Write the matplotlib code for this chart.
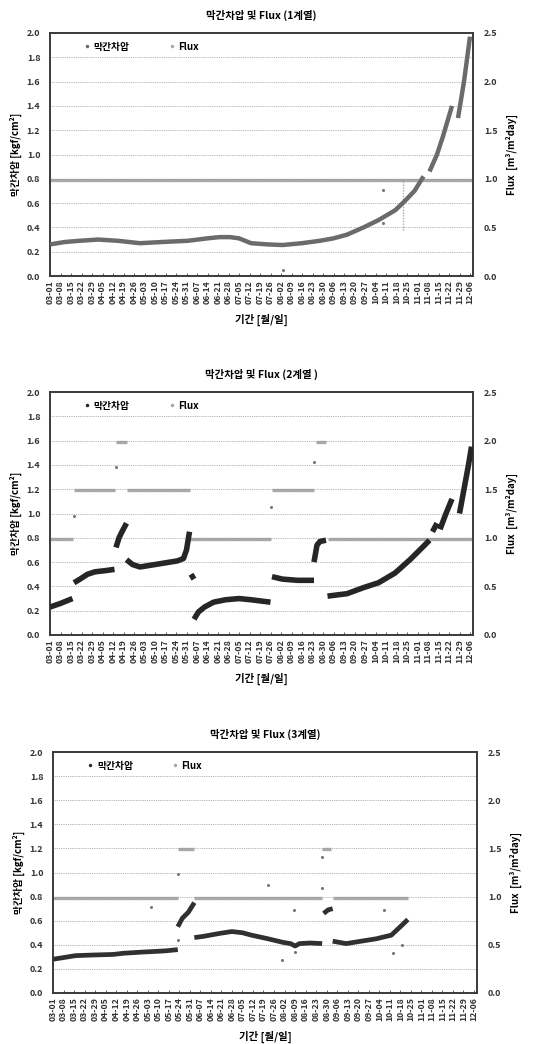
import numpy as np
import matplotlib
matplotlib.use("Agg")
import matplotlib.pyplot as plt
from matplotlib.lines import Line2D

plt.rcParams['font.family'] = ['Noto Sans CJK KR', 'DejaVu Sans']

nan = np.nan

# x tick labels (weekly, day 0 = 03-01)
tick_labels = ["03-01", "03-08", "03-15", "03-22", "03-29", "04-05", "04-12", "04-19", "04-26",
               "05-03", "05-10", "05-17", "05-24", "05-31", "06-07", "06-14", "06-21", "06-28",
               "07-05", "07-12", "07-19", "07-26", "08-02", "08-09", "08-16", "08-23", "08-30",
               "09-06", "09-13", "09-20", "09-27", "10-04", "10-11", "10-18", "10-25", "11-01",
               "11-08", "11-15", "11-22", "11-29", "12-06"]

titles = ["막간차압 및 Flux (1계열)", "막간차압 및 Flux (2계열 )", "막간차압 및 Flux (3계열)"]

# ---------- Panel 1 (day offsets from 03-01, NaN = gap) ----------
p1_day = [0, 10, 20, 32, 45, 60, 75, 92, 105, 113, 120, 126, 134, 145, 155, 168, 180, 189,
          198, 209, 219, 230, 236, 243, 249, nan, 253, 258, 262, 268, nan, 272, 276, 280]
p1_val = [0.26, 0.28, 0.29, 0.30, 0.29, 0.27, 0.28, 0.29, 0.31, 0.32, 0.32, 0.31, 0.27, 0.26,
          0.255, 0.27, 0.29, 0.31, 0.34, 0.40, 0.46, 0.54, 0.61, 0.70, 0.82, nan, 0.86, 1.0,
          1.15, 1.40, nan, 1.30, 1.60, 1.97]
p1_flux_start = [0]
p1_flux_end = [281]
p1_flux_val = [0.985]
p1_drop_day = [235]
p1_drop_low = [0.47]
p1_drop_high = [0.98]
p1_out_day = [222, 222, 155]
p1_out_val = [0.71, 0.44, 0.05]   # in pressure units

# ---------- Panel 2 ----------
p2_day = [0, 7, 15, nan, 16, 20, 25, 30, 37, 43, nan, 44, 46, 48, 51, nan,
          51, 55, 60, 65, 75, 85, 89, 91, 93, nan, 94, 96, nan,
          96, 99, 103, 109, 117, 126, 134, 147, nan,
          148, 155, 165, 176, nan, 176, 178, 180, 184, nan,
          185, 198, 209, 219, 230, 240, 249, 253, nan, 255, 258, nan,
          260, 264, 268, nan, 273, 276, 279, 281]
p2_val = [0.23, 0.26, 0.30, nan, 0.43, 0.46, 0.50, 0.52, 0.53, 0.54, nan, 0.72, 0.80, 0.85, 0.92, nan,
          0.62, 0.58, 0.56, 0.57, 0.59, 0.61, 0.63, 0.70, 0.85, nan, 0.50, 0.46, nan,
          0.13, 0.19, 0.23, 0.27, 0.29, 0.30, 0.29, 0.27, nan,
          0.48, 0.46, 0.45, 0.45, nan, 0.60, 0.74, 0.77, 0.78, nan,
          0.32, 0.34, 0.39, 0.43, 0.51, 0.62, 0.73, 0.78, nan, 0.85, 0.92, nan,
          0.87, 1.00, 1.12, nan, 1.00, 1.20, 1.40, 1.55]
p2_flux_start = [0, 16, 44, 51, 93, 148, 177, 185]
p2_flux_end = [15, 43, 51, 93, 147, 176, 184, 281]
p2_flux_val = [0.99, 1.49, 1.99, 1.49, 0.99, 1.49, 1.99, 0.99]
p2_out_day = [44, 16, 147, 176]
p2_out_val = [1.38, 0.98, 1.05, 1.42]

# ---------- Panel 3 ----------
p3_day = [0, 5, 15, 26, 40, 47, 60, 68, 75, 83, nan, 83, 86, 90, 94, nan,
          94, 100, 111, 119, 126, 132, 143, 153, 158, 161, 164, 171, 179, nan,
          180, 183, 186, nan, 186, 195, 205, 215, 225, 231, 236]
p3_val = [0.28, 0.29, 0.31, 0.315, 0.32, 0.33, 0.34, 0.345, 0.35, 0.36, nan, 0.55, 0.62, 0.67, 0.75, nan,
          0.46, 0.47, 0.495, 0.51, 0.50, 0.48, 0.45, 0.42, 0.41, 0.39, 0.41, 0.415, 0.41, nan,
          0.66, 0.69, 0.70, nan, 0.43, 0.41, 0.43, 0.45, 0.48, 0.55, 0.61]
p3_flux_start = [0, 83, 94, 179, 186]
p3_flux_end = [83, 94, 179, 185, 236]
p3_flux_val = [0.99, 1.49, 0.99, 1.49, 0.99]
p3_out_day = [83, 83, 65, 143, 152, 161, 160, 179, 179, 220, 226, 232]
p3_out_val = [0.99, 0.44, 0.71, 0.90, 0.27, 0.34, 0.69, 1.13, 0.87, 0.69, 0.33, 0.40]

panels = [
    dict(day=p1_day, val=p1_val, fs=p1_flux_start, fe=p1_flux_end, fv=p1_flux_val,
         od=p1_out_day, ov=p1_out_val, pcol="#6b6b6b", plw=3.2,
         rect=[50, 33, 473, 276]),
    dict(day=p2_day, val=p2_val, fs=p2_flux_start, fe=p2_flux_end, fv=p2_flux_val,
         od=p2_out_day, ov=p2_out_val, pcol="#262626", plw=4.0,
         rect=[50, 392, 473, 635]),
    dict(day=p3_day, val=p3_val, fs=p3_flux_start, fe=p3_flux_end, fv=p3_flux_val,
         od=p3_out_day, ov=p3_out_val, pcol="#303030", plw=3.4,
         rect=[53, 752, 477, 993]),
]

W, H = 543, 1044
fig = plt.figure(figsize=(W / 100, H / 100), dpi=100)
flux_col = "#a9a9a9"
tick_pos = [7 * i for i in range(len(tick_labels))]

for i, p in enumerate(panels):
    l, t, r, b = p["rect"]
    ax = fig.add_axes([l / W, 1 - b / H, (r - l) / W, (b - t) / H])
    ax2 = ax.twinx()
    ax.set_zorder(ax2.get_zorder() + 1)
    ax.patch.set_visible(False)

    ax.set_xlim(0, 282)
    ax.set_ylim(0, 2.0)
    ax2.set_ylim(0, 2.5)

    # grid
    for g in np.arange(0.2, 1.9, 0.2):
        ax.axhline(g, color="#9a9a9a", lw=0.6, ls=(0, (1, 1.2)), zorder=0)

    # flux
    ax2.hlines(p["fv"], p["fs"], p["fe"], colors=flux_col, lw=2.4, zorder=2)
    if i == 0:
        ax2.vlines(p1_drop_day, p1_drop_low, p1_drop_high, colors=flux_col, lw=1.0,
                   linestyles=(0, (1, 1)))
    # pressure
    ax.plot(p["day"], p["val"], color=p["pcol"], lw=p["plw"], solid_capstyle="butt",
            solid_joinstyle="round", zorder=3)
    ax.plot(p["od"], p["ov"], ls="none", marker="o", ms=1.2, color="#777777", zorder=3)

    ax.set_xticks(tick_pos)
    ax.set_xticklabels(tick_labels, rotation=90, fontsize=6.3, fontweight="bold",
                       color="#333333")
    ax.set_yticks(np.arange(0, 2.01, 0.2))
    ax.set_yticklabels([f"{v:.1f}" for v in np.arange(0, 2.01, 0.2)], fontsize=6.5,
                       fontweight="bold", color="#333333")
    ax2.set_yticks(np.arange(0, 2.51, 0.5))
    ax2.set_yticklabels([f"{v:.1f}" for v in np.arange(0, 2.51, 0.5)], fontsize=6.5,
                        fontweight="bold", color="#333333")
    ax.tick_params(axis="x", direction="in", length=2.5, width=0.6, pad=3, colors="#444444",
                   labelcolor="#333333")
    ax.tick_params(axis="y", length=0, pad=7)
    ax2.tick_params(axis="y", length=0, pad=8)

    for a in (ax, ax2):
        for s in a.spines.values():
            s.set_color("#3a3a3a")
            s.set_linewidth(1.2)

    ax.set_ylabel("막간차압 [kgf/cm²]", fontsize=7, fontweight="bold", labelpad=3)
    ax2.set_ylabel("Flux  [m³/m²day]", fontsize=7, fontweight="bold", labelpad=6)
    ax.set_xlabel("기간 [월/일]", fontsize=7.5, fontweight="bold", labelpad=7)

    fig.text((l + r) / 2 / W, 1 - (t - 18) / H, titles[i], ha="center", va="center",
             fontsize=7.5, fontweight="bold")

    handles = [Line2D([], [], ls="none", marker="o", ms=1.5, color=p["pcol"]),
               Line2D([], [], ls="none", marker="o", ms=1.5, color=flux_col)]
    ax.legend(handles, ["막간차압", "Flux"], loc="upper left", bbox_to_anchor=(0.06, 1.0),
              ncol=2, frameon=False, fontsize=7, handlelength=0.6, handletextpad=0.4,
              columnspacing=4.0, prop=dict(size=7, weight="bold"))

fig.savefig("out.png", dpi=100)
